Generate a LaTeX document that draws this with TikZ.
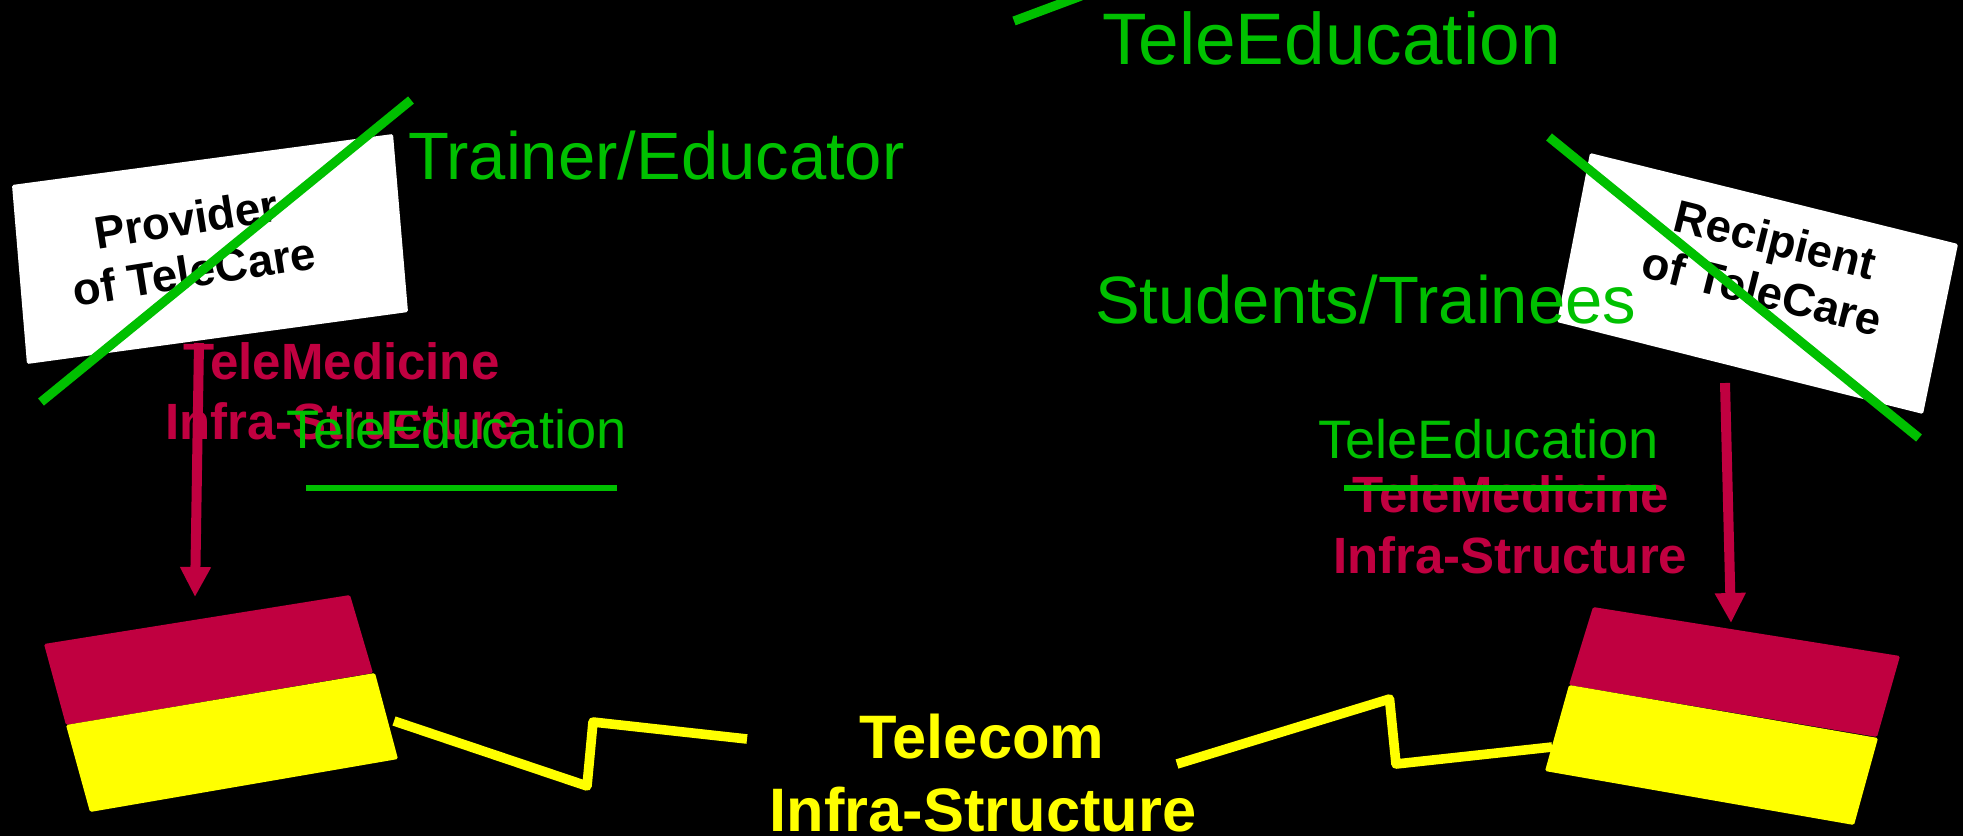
\documentclass[tikz,border=0pt]{standalone}
\usepackage{fontspec}
\setmainfont{Liberation Sans}
\usetikzlibrary{arrows.meta}
\definecolor{cgreen}{RGB}{0,192,0}
\definecolor{crim}{RGB}{192,0,64}
\definecolor{cyell}{RGB}{255,255,0}
\tikzset{
  x=0.5pt,y=-0.5pt,
  lbl/.style={inner sep=0pt,outer sep=0pt,anchor=base west},
  gtext/.style={lbl,text=cgreen},
  ctext/.style={lbl,text=crim,font=\fontsize{25.5}{30}\selectfont\bfseries},
  ytext/.style={inner sep=0pt,text=cyell,anchor=base,font=\fontsize{30.7}{36}\selectfont\bfseries},
  sign/.style={inner sep=0pt,align=center,text=black,font=\fontsize{22.8}{26.5}\selectfont\bfseries},
  slash/.style={draw=cgreen,line width=4.6pt},
  uline/.style={draw=cgreen,line width=3.3pt},
  feed/.style={draw=crim,line width=5pt,-{Triangle[length=15pt,width=14.5pt]}},
  bolt/.style={draw=cyell,line width=4.8pt,line join=round},
  panel/.style={rounded corners=0.8pt}
}
\begin{document}
\begin{tikzpicture}
\path[use as bounding box,fill=black] (0,0) rectangle (1963,836);
\clip (0,0) rectangle (1963,836);
% signs
\fill[white,panel] (12,185) -- (393,134) -- (408,312) -- (27,364) -- cycle;
\fill[white,panel] (1590,153) -- (1958,244) -- (1923,414) -- (1557,322) -- cycle;
\node[sign,rotate=9] (provider) at (190,245) {Provider\\of TeleCare};
\node[sign,rotate=-14] (recipient) at (1769,265) {Recipient\\of TeleCare};
% coordinates
\coordinate (a1s) at (199,343); \coordinate (a1e) at (195,597);
\coordinate (a2s) at (1725,383); \coordinate (a2e) at (1731,623);
\coordinate (s1a) at (411,100); \coordinate (s1b) at (41,402);
\coordinate (s2a) at (1549,137); \coordinate (s2b) at (1919,438);
\coordinate (s3a) at (1014,21); \coordinate (s3b) at (1081,-4);
\coordinate (u1a) at (306,488); \coordinate (u1b) at (617,488);
\coordinate (u2a) at (1344,488); \coordinate (u2b) at (1656,488);
\coordinate (b1a) at (394,721); \coordinate (b1b) at (587,786); \coordinate (b1c) at (593,722); \coordinate (b1d) at (747,739);
\coordinate (b2a) at (1177,764); \coordinate (b2b) at (1389.5,699); \coordinate (b2c) at (1396,764); \coordinate (b2d) at (1552,747);
% crimson texts
\node[ctext] (tm1) at (183,379) {TeleMedicine};
\node[ctext] (is1) at (165,439) {Infra-Structure};
\node[ctext] (tm2) at (1352,512) {TeleMedicine};
\node[ctext] (is2) at (1333,573) {Infra-Structure};
% arrows
\draw[feed] (a1s) -- (a1e);
\draw[feed] (a2s) -- (a2e);
% zigzags
\draw[bolt] (b1a) -- (b1b) -- (b1c) -- (b1d);
\draw[bolt] (b2a) -- (b2b) -- (b2c) -- (b2d);
% flags
\fill[crim,panel] (44,644) -- (350,595) -- (373,673) -- (66,725) -- cycle;
\fill[cyell,panel] (66,725) -- (375,673) -- (398,759) -- (90,812) -- cycle;
\fill[crim,panel] (1593,607) -- (1900,656) -- (1877,737) -- (1569,685) -- cycle;
\fill[cyell,panel] (1569,685) -- (1878,738) -- (1854,825) -- (1545,771) -- cycle;
% telecom label
\node[ytext] (telecom) at (982,758) {Telecom};
\node[ytext] (infra) at (983,831) {Infra-Structure};
% green texts
\node[gtext,font=\fontsize{36.5}{42}\selectfont] (te0) at (1102,64) {TeleEducation};
\node[gtext,font=\fontsize{33.5}{40}\selectfont] (trainer) at (408,179) {Trainer/Educator};
\node[gtext,font=\fontsize{33.5}{40}\selectfont] (students) at (1095,323) {Students/Trainees};
\node[gtext,font=\fontsize{27.1}{32}\selectfont] (te1) at (286,448) {TeleEducation};
\node[gtext,font=\fontsize{27.1}{32}\selectfont] (te2) at (1318,458) {TeleEducation};
% green lines
\draw[slash] (s1a) -- (s1b);
\draw[slash] (s2a) -- (s2b);
\draw[slash] (s3a) -- (s3b);
\draw[uline] (u1a) -- (u1b);
\draw[uline] (u2a) -- (u2b);
\end{tikzpicture}
\end{document}
